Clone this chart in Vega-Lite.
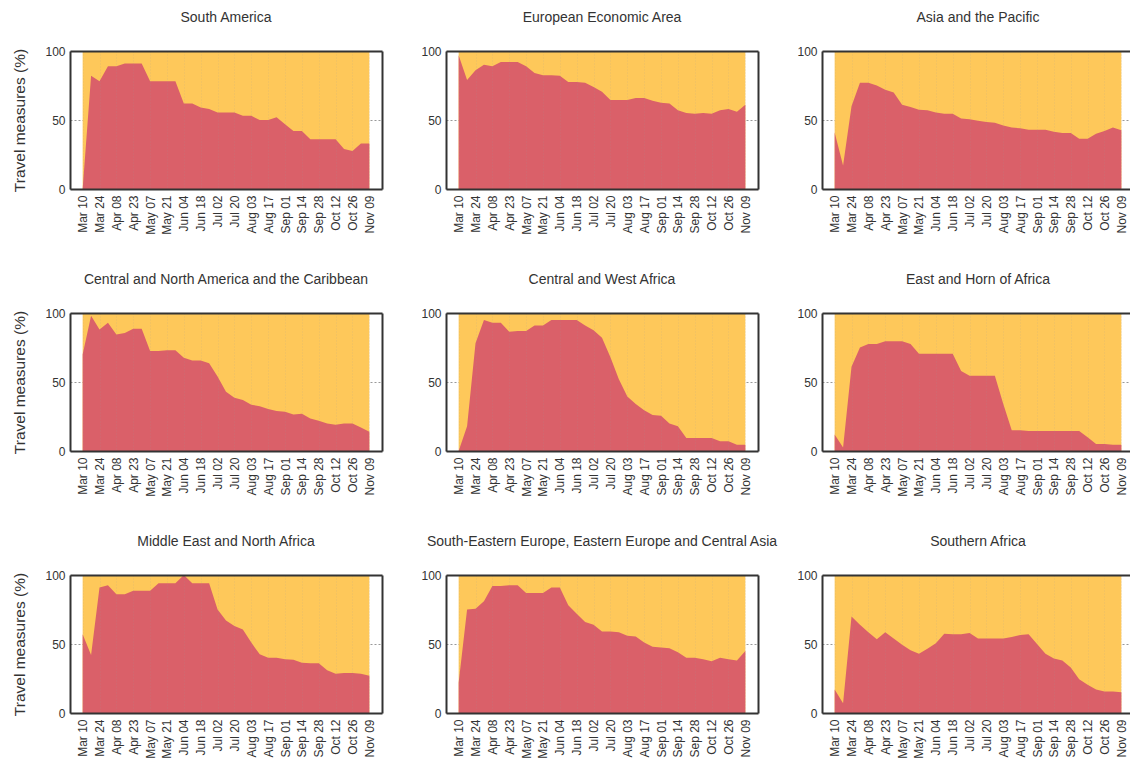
{
  "$schema": "https://vega.github.io/schema/vega-lite/v6.json",
  "padding": {"left": 12, "top": 11, "right": 0, "bottom": 0},
  "background": "white",
  "config": {
    "view": {"stroke": null},
    "font": "Liberation Sans",
    "title": {"fontSize": 14, "fontWeight": "normal", "color": "#333", "font": "Liberation Sans", "offset": 20},
    "axis": {"labelFont": "Liberation Sans", "labelFontSize": 12, "labelColor": "#333", "titleFont": "Liberation Sans", "titleFontSize": 15.5, "titleFontWeight": "normal", "titleColor": "#333", "domainColor": "#333", "domainWidth": 2, "ticks": false},
    "area": {"interpolate": "linear"}
  },
  "datasets": {
    "sa": [{"date":"Mar 10","value":0},{"date":"Mar 17","value":82},{"date":"Mar 24","value":78},{"date":"Mar 31","value":89},{"date":"Apr 08","value":89},{"date":"Apr 15","value":91},{"date":"Apr 23","value":91},{"date":"Apr 30","value":91},{"date":"May 07","value":78},{"date":"May 14","value":78},{"date":"May 21","value":78},{"date":"May 28","value":78},{"date":"Jun 04","value":62},{"date":"Jun 11","value":62},{"date":"Jun 18","value":59},{"date":"Jun 25","value":58},{"date":"Jul 02","value":55.5},{"date":"Jul 09","value":55.5},{"date":"Jul 20","value":55.5},{"date":"Jul 27","value":53},{"date":"Aug 03","value":53},{"date":"Aug 10","value":50},{"date":"Aug 17","value":50},{"date":"Aug 24","value":52},{"date":"Sep 01","value":47},{"date":"Sep 07","value":42},{"date":"Sep 14","value":42},{"date":"Sep 21","value":36},{"date":"Sep 28","value":36},{"date":"Oct 05","value":36},{"date":"Oct 12","value":36},{"date":"Oct 19","value":29},{"date":"Oct 26","value":27.5},{"date":"Nov 02","value":33},{"date":"Nov 09","value":33}],
    "eea": [{"date":"Mar 10","value":97},{"date":"Mar 17","value":79},{"date":"Mar 24","value":86},{"date":"Mar 31","value":90},{"date":"Apr 08","value":89},{"date":"Apr 15","value":92},{"date":"Apr 23","value":92},{"date":"Apr 30","value":92},{"date":"May 07","value":89},{"date":"May 14","value":84},{"date":"May 21","value":82.5},{"date":"May 28","value":82.5},{"date":"Jun 04","value":82},{"date":"Jun 11","value":77.5},{"date":"Jun 18","value":77.5},{"date":"Jun 25","value":77},{"date":"Jul 02","value":74},{"date":"Jul 09","value":70.5},{"date":"Jul 20","value":64.5},{"date":"Jul 27","value":64.5},{"date":"Aug 03","value":64.5},{"date":"Aug 10","value":66},{"date":"Aug 17","value":66},{"date":"Aug 24","value":64},{"date":"Sep 01","value":62.5},{"date":"Sep 07","value":62},{"date":"Sep 14","value":57},{"date":"Sep 21","value":55},{"date":"Sep 28","value":54.5},{"date":"Oct 05","value":55},{"date":"Oct 12","value":54.5},{"date":"Oct 19","value":57},{"date":"Oct 26","value":58},{"date":"Nov 02","value":56},{"date":"Nov 09","value":61}],
    "asia": [{"date":"Mar 10","value":41},{"date":"Mar 17","value":17},{"date":"Mar 24","value":60},{"date":"Mar 31","value":77},{"date":"Apr 08","value":77},{"date":"Apr 15","value":75},{"date":"Apr 23","value":72},{"date":"Apr 30","value":70},{"date":"May 07","value":61},{"date":"May 14","value":59.5},{"date":"May 21","value":57.5},{"date":"May 28","value":57},{"date":"Jun 04","value":55.5},{"date":"Jun 11","value":54.5},{"date":"Jun 18","value":54.5},{"date":"Jun 25","value":51},{"date":"Jul 02","value":50.5},{"date":"Jul 09","value":49.5},{"date":"Jul 20","value":48.5},{"date":"Jul 27","value":48},{"date":"Aug 03","value":46},{"date":"Aug 10","value":44.5},{"date":"Aug 17","value":44},{"date":"Aug 24","value":43},{"date":"Sep 01","value":43},{"date":"Sep 07","value":43},{"date":"Sep 14","value":41.5},{"date":"Sep 21","value":40.5},{"date":"Sep 28","value":40.5},{"date":"Oct 05","value":36.5},{"date":"Oct 12","value":36.5},{"date":"Oct 19","value":40},{"date":"Oct 26","value":42},{"date":"Nov 02","value":44.5},{"date":"Nov 09","value":42.5}],
    "cna": [{"date":"Mar 10","value":70},{"date":"Mar 17","value":98},{"date":"Mar 24","value":88},{"date":"Mar 31","value":93},{"date":"Apr 08","value":84.5},{"date":"Apr 15","value":85.5},{"date":"Apr 23","value":88.5},{"date":"Apr 30","value":88.5},{"date":"May 07","value":72.5},{"date":"May 14","value":72.5},{"date":"May 21","value":73},{"date":"May 28","value":73},{"date":"Jun 04","value":67.5},{"date":"Jun 11","value":65.5},{"date":"Jun 18","value":65.5},{"date":"Jun 25","value":63.5},{"date":"Jul 02","value":54},{"date":"Jul 09","value":43},{"date":"Jul 20","value":38.5},{"date":"Jul 27","value":37},{"date":"Aug 03","value":33.5},{"date":"Aug 10","value":32.5},{"date":"Aug 17","value":30.5},{"date":"Aug 24","value":29},{"date":"Sep 01","value":28.5},{"date":"Sep 07","value":26.5},{"date":"Sep 14","value":27},{"date":"Sep 21","value":23.5},{"date":"Sep 28","value":22},{"date":"Oct 05","value":20},{"date":"Oct 12","value":19},{"date":"Oct 19","value":20},{"date":"Oct 26","value":20},{"date":"Nov 02","value":17},{"date":"Nov 09","value":14}],
    "cwa": [{"date":"Mar 10","value":0},{"date":"Mar 17","value":18},{"date":"Mar 24","value":78},{"date":"Mar 31","value":95},{"date":"Apr 08","value":93},{"date":"Apr 15","value":93},{"date":"Apr 23","value":86.5},{"date":"Apr 30","value":87},{"date":"May 07","value":87},{"date":"May 14","value":91},{"date":"May 21","value":91},{"date":"May 28","value":95},{"date":"Jun 04","value":95},{"date":"Jun 11","value":95},{"date":"Jun 18","value":95},{"date":"Jun 25","value":91},{"date":"Jul 02","value":87.5},{"date":"Jul 09","value":82},{"date":"Jul 20","value":68},{"date":"Jul 27","value":52},{"date":"Aug 03","value":39.5},{"date":"Aug 10","value":34},{"date":"Aug 17","value":29.5},{"date":"Aug 24","value":26},{"date":"Sep 01","value":25.5},{"date":"Sep 07","value":20},{"date":"Sep 14","value":18},{"date":"Sep 21","value":9.5},{"date":"Sep 28","value":9.5},{"date":"Oct 05","value":9.5},{"date":"Oct 12","value":9.5},{"date":"Oct 19","value":7},{"date":"Oct 26","value":7},{"date":"Nov 02","value":4.5},{"date":"Nov 09","value":4.5}],
    "eha": [{"date":"Mar 10","value":12},{"date":"Mar 17","value":2.5},{"date":"Mar 24","value":61},{"date":"Mar 31","value":75},{"date":"Apr 08","value":77.5},{"date":"Apr 15","value":77.5},{"date":"Apr 23","value":79.5},{"date":"Apr 30","value":79.5},{"date":"May 07","value":79.5},{"date":"May 14","value":77.5},{"date":"May 21","value":70.5},{"date":"May 28","value":70.5},{"date":"Jun 04","value":70.5},{"date":"Jun 11","value":70.5},{"date":"Jun 18","value":70.5},{"date":"Jun 25","value":58},{"date":"Jul 02","value":54.5},{"date":"Jul 09","value":54.5},{"date":"Jul 20","value":54.5},{"date":"Jul 27","value":54.5},{"date":"Aug 03","value":34},{"date":"Aug 10","value":15},{"date":"Aug 17","value":15},{"date":"Aug 24","value":14.5},{"date":"Sep 01","value":14.5},{"date":"Sep 07","value":14.5},{"date":"Sep 14","value":14.5},{"date":"Sep 21","value":14.5},{"date":"Sep 28","value":14.5},{"date":"Oct 05","value":14.5},{"date":"Oct 12","value":10},{"date":"Oct 19","value":5},{"date":"Oct 26","value":5},{"date":"Nov 02","value":4.5},{"date":"Nov 09","value":4.5}],
    "mena": [{"date":"Mar 10","value":57},{"date":"Mar 17","value":42},{"date":"Mar 24","value":91},{"date":"Mar 31","value":92.5},{"date":"Apr 08","value":86},{"date":"Apr 15","value":86},{"date":"Apr 23","value":88.5},{"date":"Apr 30","value":88.5},{"date":"May 07","value":88.5},{"date":"May 14","value":94},{"date":"May 21","value":94},{"date":"May 28","value":94},{"date":"Jun 04","value":100},{"date":"Jun 11","value":94},{"date":"Jun 18","value":94},{"date":"Jun 25","value":94},{"date":"Jul 02","value":75},{"date":"Jul 09","value":67},{"date":"Jul 20","value":63},{"date":"Jul 27","value":60.5},{"date":"Aug 03","value":51},{"date":"Aug 10","value":42.5},{"date":"Aug 17","value":40},{"date":"Aug 24","value":40},{"date":"Sep 01","value":39},{"date":"Sep 07","value":38.5},{"date":"Sep 14","value":36.5},{"date":"Sep 21","value":36},{"date":"Sep 28","value":36},{"date":"Oct 05","value":31},{"date":"Oct 12","value":28.5},{"date":"Oct 19","value":29},{"date":"Oct 26","value":29},{"date":"Nov 02","value":28.5},{"date":"Nov 09","value":27}],
    "see": [{"date":"Mar 10","value":22},{"date":"Mar 17","value":75},{"date":"Mar 24","value":75.5},{"date":"Mar 31","value":81},{"date":"Apr 08","value":92},{"date":"Apr 15","value":92},{"date":"Apr 23","value":92.5},{"date":"Apr 30","value":92.5},{"date":"May 07","value":87},{"date":"May 14","value":87},{"date":"May 21","value":87},{"date":"May 28","value":91},{"date":"Jun 04","value":91},{"date":"Jun 11","value":78},{"date":"Jun 18","value":72},{"date":"Jun 25","value":66},{"date":"Jul 02","value":64},{"date":"Jul 09","value":59},{"date":"Jul 20","value":59},{"date":"Jul 27","value":58.5},{"date":"Aug 03","value":56},{"date":"Aug 10","value":55.5},{"date":"Aug 17","value":51},{"date":"Aug 24","value":48},{"date":"Sep 01","value":47.5},{"date":"Sep 07","value":47},{"date":"Sep 14","value":44},{"date":"Sep 21","value":40},{"date":"Sep 28","value":40},{"date":"Oct 05","value":39},{"date":"Oct 12","value":37.5},{"date":"Oct 19","value":40},{"date":"Oct 26","value":39},{"date":"Nov 02","value":38},{"date":"Nov 09","value":45}],
    "saf": [{"date":"Mar 10","value":17},{"date":"Mar 17","value":7},{"date":"Mar 24","value":70},{"date":"Mar 31","value":64},{"date":"Apr 08","value":58.5},{"date":"Apr 15","value":53.5},{"date":"Apr 23","value":58.5},{"date":"Apr 30","value":54},{"date":"May 07","value":49.5},{"date":"May 14","value":45.5},{"date":"May 21","value":43},{"date":"May 28","value":46.5},{"date":"Jun 04","value":50.5},{"date":"Jun 11","value":57.5},{"date":"Jun 18","value":57},{"date":"Jun 25","value":57},{"date":"Jul 02","value":58},{"date":"Jul 09","value":54},{"date":"Jul 20","value":54},{"date":"Jul 27","value":54},{"date":"Aug 03","value":54},{"date":"Aug 10","value":55},{"date":"Aug 17","value":56.5},{"date":"Aug 24","value":57},{"date":"Sep 01","value":50},{"date":"Sep 07","value":43},{"date":"Sep 14","value":39.5},{"date":"Sep 21","value":38},{"date":"Sep 28","value":33},{"date":"Oct 05","value":24.5},{"date":"Oct 12","value":20.5},{"date":"Oct 19","value":17},{"date":"Oct 26","value":15.5},{"date":"Nov 02","value":15.5},{"date":"Nov 09","value":15}]
  },
  "columns": 3,
  "bounds": "flush",
  "spacing": {"row": 124, "column": 64},
  "concat": [
    {"title": "South America", "width": 312, "height": 138, "data": {"name": "sa"},
     "layer": [
      {"mark": {"type": "area", "color": "#fec85a"},
       "encoding": {
        "x": {"field": "date", "type": "ordinal", "scale": {"type": "point", "padding": 0.5, "domain": ["_start","Mar 10","Mar 17","Mar 24","Mar 31","Apr 08","Apr 15","Apr 23","Apr 30","May 07","May 14","May 21","May 28","Jun 04","Jun 11","Jun 18","Jun 25","Jul 02","Jul 09","Jul 20","Jul 27","Aug 03","Aug 10","Aug 17","Aug 24","Sep 01","Sep 07","Sep 14","Sep 21","Sep 28","Oct 05","Oct 12","Oct 19","Oct 26","Nov 02","Nov 09","_end"]},
         "axis": {"orient": "bottom", "title": null, "values": ["Mar 10","Mar 24","Apr 08","Apr 23","May 07","May 21","Jun 04","Jun 18","Jul 02","Jul 20","Aug 03","Aug 17","Sep 01","Sep 14","Sep 28","Oct 12","Oct 26","Nov 09"], "labelAngle": -90, "labelPadding": 6, "grid": true, "gridColor": "#999", "gridDash": [1, 2], "gridOpacity": 0.22, "zindex": 1}},
        "y": {"datum": 100, "type": "quantitative", "scale": {"domain": [0, 100]},
         "axis": {"orient": "left", "title": "Travel measures (%)", "titlePadding": 17, "values": [0, 50, 100], "labelPadding": 5, "grid": true, "gridColor": "#999", "gridDash": [2, 2], "zindex": 0}}
       }},
      {"mark": {"type": "area", "color": "#da6069"},
       "encoding": {
        "x": {"field": "date", "type": "ordinal", "scale": {"type": "point", "padding": 0.5, "domain": ["_start","Mar 10","Mar 17","Mar 24","Mar 31","Apr 08","Apr 15","Apr 23","Apr 30","May 07","May 14","May 21","May 28","Jun 04","Jun 11","Jun 18","Jun 25","Jul 02","Jul 09","Jul 20","Jul 27","Aug 03","Aug 10","Aug 17","Aug 24","Sep 01","Sep 07","Sep 14","Sep 21","Sep 28","Oct 05","Oct 12","Oct 19","Oct 26","Nov 02","Nov 09","_end"]}, "axis": {"orient": "top", "title": null, "labels": false, "grid": false, "zindex": 1}},
        "y": {"field": "value", "type": "quantitative", "axis": {"orient": "right", "title": null, "labels": false, "grid": false, "zindex": 1}}
       }}
     ]},
    {"title": "European Economic Area", "width": 312, "height": 138, "data": {"name": "eea"},
     "layer": [
      {"mark": {"type": "area", "color": "#fec85a"},
       "encoding": {
        "x": {"field": "date", "type": "ordinal", "scale": {"type": "point", "padding": 0.5, "domain": ["_start","Mar 10","Mar 17","Mar 24","Mar 31","Apr 08","Apr 15","Apr 23","Apr 30","May 07","May 14","May 21","May 28","Jun 04","Jun 11","Jun 18","Jun 25","Jul 02","Jul 09","Jul 20","Jul 27","Aug 03","Aug 10","Aug 17","Aug 24","Sep 01","Sep 07","Sep 14","Sep 21","Sep 28","Oct 05","Oct 12","Oct 19","Oct 26","Nov 02","Nov 09","_end"]},
         "axis": {"orient": "bottom", "title": null, "values": ["Mar 10","Mar 24","Apr 08","Apr 23","May 07","May 21","Jun 04","Jun 18","Jul 02","Jul 20","Aug 03","Aug 17","Sep 01","Sep 14","Sep 28","Oct 12","Oct 26","Nov 09"], "labelAngle": -90, "labelPadding": 6, "grid": true, "gridColor": "#999", "gridDash": [1, 2], "gridOpacity": 0.22, "zindex": 1}},
        "y": {"datum": 100, "type": "quantitative", "scale": {"domain": [0, 100]},
         "axis": {"orient": "left", "title": null, "values": [0, 50, 100], "labelPadding": 5, "grid": true, "gridColor": "#999", "gridDash": [2, 2], "zindex": 0}}
       }},
      {"mark": {"type": "area", "color": "#da6069"},
       "encoding": {
        "x": {"field": "date", "type": "ordinal", "scale": {"type": "point", "padding": 0.5, "domain": ["_start","Mar 10","Mar 17","Mar 24","Mar 31","Apr 08","Apr 15","Apr 23","Apr 30","May 07","May 14","May 21","May 28","Jun 04","Jun 11","Jun 18","Jun 25","Jul 02","Jul 09","Jul 20","Jul 27","Aug 03","Aug 10","Aug 17","Aug 24","Sep 01","Sep 07","Sep 14","Sep 21","Sep 28","Oct 05","Oct 12","Oct 19","Oct 26","Nov 02","Nov 09","_end"]}, "axis": {"orient": "top", "title": null, "labels": false, "grid": false, "zindex": 1}},
        "y": {"field": "value", "type": "quantitative", "axis": {"orient": "right", "title": null, "labels": false, "grid": false, "zindex": 1}}
       }}
     ]},
    {"title": "Asia and the Pacific", "width": 312, "height": 138, "data": {"name": "asia"},
     "layer": [
      {"mark": {"type": "area", "color": "#fec85a"},
       "encoding": {
        "x": {"field": "date", "type": "ordinal", "scale": {"type": "point", "padding": 0.5, "domain": ["_start","Mar 10","Mar 17","Mar 24","Mar 31","Apr 08","Apr 15","Apr 23","Apr 30","May 07","May 14","May 21","May 28","Jun 04","Jun 11","Jun 18","Jun 25","Jul 02","Jul 09","Jul 20","Jul 27","Aug 03","Aug 10","Aug 17","Aug 24","Sep 01","Sep 07","Sep 14","Sep 21","Sep 28","Oct 05","Oct 12","Oct 19","Oct 26","Nov 02","Nov 09","_end"]},
         "axis": {"orient": "bottom", "title": null, "values": ["Mar 10","Mar 24","Apr 08","Apr 23","May 07","May 21","Jun 04","Jun 18","Jul 02","Jul 20","Aug 03","Aug 17","Sep 01","Sep 14","Sep 28","Oct 12","Oct 26","Nov 09"], "labelAngle": -90, "labelPadding": 6, "grid": true, "gridColor": "#999", "gridDash": [1, 2], "gridOpacity": 0.22, "zindex": 1}},
        "y": {"datum": 100, "type": "quantitative", "scale": {"domain": [0, 100]},
         "axis": {"orient": "left", "title": null, "values": [0, 50, 100], "labelPadding": 5, "grid": true, "gridColor": "#999", "gridDash": [2, 2], "zindex": 0}}
       }},
      {"mark": {"type": "area", "color": "#da6069"},
       "encoding": {
        "x": {"field": "date", "type": "ordinal", "scale": {"type": "point", "padding": 0.5, "domain": ["_start","Mar 10","Mar 17","Mar 24","Mar 31","Apr 08","Apr 15","Apr 23","Apr 30","May 07","May 14","May 21","May 28","Jun 04","Jun 11","Jun 18","Jun 25","Jul 02","Jul 09","Jul 20","Jul 27","Aug 03","Aug 10","Aug 17","Aug 24","Sep 01","Sep 07","Sep 14","Sep 21","Sep 28","Oct 05","Oct 12","Oct 19","Oct 26","Nov 02","Nov 09","_end"]}, "axis": {"orient": "top", "title": null, "labels": false, "grid": false, "zindex": 1}},
        "y": {"field": "value", "type": "quantitative", "axis": {"orient": "right", "title": null, "labels": false, "grid": false, "zindex": 1}}
       }}
     ]},
    {"title": "Central and North America and the Caribbean", "width": 312, "height": 138, "data": {"name": "cna"},
     "layer": [
      {"mark": {"type": "area", "color": "#fec85a"},
       "encoding": {
        "x": {"field": "date", "type": "ordinal", "scale": {"type": "point", "padding": 0.5, "domain": ["_start","Mar 10","Mar 17","Mar 24","Mar 31","Apr 08","Apr 15","Apr 23","Apr 30","May 07","May 14","May 21","May 28","Jun 04","Jun 11","Jun 18","Jun 25","Jul 02","Jul 09","Jul 20","Jul 27","Aug 03","Aug 10","Aug 17","Aug 24","Sep 01","Sep 07","Sep 14","Sep 21","Sep 28","Oct 05","Oct 12","Oct 19","Oct 26","Nov 02","Nov 09","_end"]},
         "axis": {"orient": "bottom", "title": null, "values": ["Mar 10","Mar 24","Apr 08","Apr 23","May 07","May 21","Jun 04","Jun 18","Jul 02","Jul 20","Aug 03","Aug 17","Sep 01","Sep 14","Sep 28","Oct 12","Oct 26","Nov 09"], "labelAngle": -90, "labelPadding": 6, "grid": true, "gridColor": "#999", "gridDash": [1, 2], "gridOpacity": 0.22, "zindex": 1}},
        "y": {"datum": 100, "type": "quantitative", "scale": {"domain": [0, 100]},
         "axis": {"orient": "left", "title": "Travel measures (%)", "titlePadding": 17, "values": [0, 50, 100], "labelPadding": 5, "grid": true, "gridColor": "#999", "gridDash": [2, 2], "zindex": 0}}
       }},
      {"mark": {"type": "area", "color": "#da6069"},
       "encoding": {
        "x": {"field": "date", "type": "ordinal", "scale": {"type": "point", "padding": 0.5, "domain": ["_start","Mar 10","Mar 17","Mar 24","Mar 31","Apr 08","Apr 15","Apr 23","Apr 30","May 07","May 14","May 21","May 28","Jun 04","Jun 11","Jun 18","Jun 25","Jul 02","Jul 09","Jul 20","Jul 27","Aug 03","Aug 10","Aug 17","Aug 24","Sep 01","Sep 07","Sep 14","Sep 21","Sep 28","Oct 05","Oct 12","Oct 19","Oct 26","Nov 02","Nov 09","_end"]}, "axis": {"orient": "top", "title": null, "labels": false, "grid": false, "zindex": 1}},
        "y": {"field": "value", "type": "quantitative", "axis": {"orient": "right", "title": null, "labels": false, "grid": false, "zindex": 1}}
       }}
     ]},
    {"title": "Central and West Africa", "width": 312, "height": 138, "data": {"name": "cwa"},
     "layer": [
      {"mark": {"type": "area", "color": "#fec85a"},
       "encoding": {
        "x": {"field": "date", "type": "ordinal", "scale": {"type": "point", "padding": 0.5, "domain": ["_start","Mar 10","Mar 17","Mar 24","Mar 31","Apr 08","Apr 15","Apr 23","Apr 30","May 07","May 14","May 21","May 28","Jun 04","Jun 11","Jun 18","Jun 25","Jul 02","Jul 09","Jul 20","Jul 27","Aug 03","Aug 10","Aug 17","Aug 24","Sep 01","Sep 07","Sep 14","Sep 21","Sep 28","Oct 05","Oct 12","Oct 19","Oct 26","Nov 02","Nov 09","_end"]},
         "axis": {"orient": "bottom", "title": null, "values": ["Mar 10","Mar 24","Apr 08","Apr 23","May 07","May 21","Jun 04","Jun 18","Jul 02","Jul 20","Aug 03","Aug 17","Sep 01","Sep 14","Sep 28","Oct 12","Oct 26","Nov 09"], "labelAngle": -90, "labelPadding": 6, "grid": true, "gridColor": "#999", "gridDash": [1, 2], "gridOpacity": 0.22, "zindex": 1}},
        "y": {"datum": 100, "type": "quantitative", "scale": {"domain": [0, 100]},
         "axis": {"orient": "left", "title": null, "values": [0, 50, 100], "labelPadding": 5, "grid": true, "gridColor": "#999", "gridDash": [2, 2], "zindex": 0}}
       }},
      {"mark": {"type": "area", "color": "#da6069"},
       "encoding": {
        "x": {"field": "date", "type": "ordinal", "scale": {"type": "point", "padding": 0.5, "domain": ["_start","Mar 10","Mar 17","Mar 24","Mar 31","Apr 08","Apr 15","Apr 23","Apr 30","May 07","May 14","May 21","May 28","Jun 04","Jun 11","Jun 18","Jun 25","Jul 02","Jul 09","Jul 20","Jul 27","Aug 03","Aug 10","Aug 17","Aug 24","Sep 01","Sep 07","Sep 14","Sep 21","Sep 28","Oct 05","Oct 12","Oct 19","Oct 26","Nov 02","Nov 09","_end"]}, "axis": {"orient": "top", "title": null, "labels": false, "grid": false, "zindex": 1}},
        "y": {"field": "value", "type": "quantitative", "axis": {"orient": "right", "title": null, "labels": false, "grid": false, "zindex": 1}}
       }}
     ]},
    {"title": "East and Horn of Africa", "width": 312, "height": 138, "data": {"name": "eha"},
     "layer": [
      {"mark": {"type": "area", "color": "#fec85a"},
       "encoding": {
        "x": {"field": "date", "type": "ordinal", "scale": {"type": "point", "padding": 0.5, "domain": ["_start","Mar 10","Mar 17","Mar 24","Mar 31","Apr 08","Apr 15","Apr 23","Apr 30","May 07","May 14","May 21","May 28","Jun 04","Jun 11","Jun 18","Jun 25","Jul 02","Jul 09","Jul 20","Jul 27","Aug 03","Aug 10","Aug 17","Aug 24","Sep 01","Sep 07","Sep 14","Sep 21","Sep 28","Oct 05","Oct 12","Oct 19","Oct 26","Nov 02","Nov 09","_end"]},
         "axis": {"orient": "bottom", "title": null, "values": ["Mar 10","Mar 24","Apr 08","Apr 23","May 07","May 21","Jun 04","Jun 18","Jul 02","Jul 20","Aug 03","Aug 17","Sep 01","Sep 14","Sep 28","Oct 12","Oct 26","Nov 09"], "labelAngle": -90, "labelPadding": 6, "grid": true, "gridColor": "#999", "gridDash": [1, 2], "gridOpacity": 0.22, "zindex": 1}},
        "y": {"datum": 100, "type": "quantitative", "scale": {"domain": [0, 100]},
         "axis": {"orient": "left", "title": null, "values": [0, 50, 100], "labelPadding": 5, "grid": true, "gridColor": "#999", "gridDash": [2, 2], "zindex": 0}}
       }},
      {"mark": {"type": "area", "color": "#da6069"},
       "encoding": {
        "x": {"field": "date", "type": "ordinal", "scale": {"type": "point", "padding": 0.5, "domain": ["_start","Mar 10","Mar 17","Mar 24","Mar 31","Apr 08","Apr 15","Apr 23","Apr 30","May 07","May 14","May 21","May 28","Jun 04","Jun 11","Jun 18","Jun 25","Jul 02","Jul 09","Jul 20","Jul 27","Aug 03","Aug 10","Aug 17","Aug 24","Sep 01","Sep 07","Sep 14","Sep 21","Sep 28","Oct 05","Oct 12","Oct 19","Oct 26","Nov 02","Nov 09","_end"]}, "axis": {"orient": "top", "title": null, "labels": false, "grid": false, "zindex": 1}},
        "y": {"field": "value", "type": "quantitative", "axis": {"orient": "right", "title": null, "labels": false, "grid": false, "zindex": 1}}
       }}
     ]},
    {"title": "Middle East and North Africa", "width": 312, "height": 138, "data": {"name": "mena"},
     "layer": [
      {"mark": {"type": "area", "color": "#fec85a"},
       "encoding": {
        "x": {"field": "date", "type": "ordinal", "scale": {"type": "point", "padding": 0.5, "domain": ["_start","Mar 10","Mar 17","Mar 24","Mar 31","Apr 08","Apr 15","Apr 23","Apr 30","May 07","May 14","May 21","May 28","Jun 04","Jun 11","Jun 18","Jun 25","Jul 02","Jul 09","Jul 20","Jul 27","Aug 03","Aug 10","Aug 17","Aug 24","Sep 01","Sep 07","Sep 14","Sep 21","Sep 28","Oct 05","Oct 12","Oct 19","Oct 26","Nov 02","Nov 09","_end"]},
         "axis": {"orient": "bottom", "title": null, "values": ["Mar 10","Mar 24","Apr 08","Apr 23","May 07","May 21","Jun 04","Jun 18","Jul 02","Jul 20","Aug 03","Aug 17","Sep 01","Sep 14","Sep 28","Oct 12","Oct 26","Nov 09"], "labelAngle": -90, "labelPadding": 6, "grid": true, "gridColor": "#999", "gridDash": [1, 2], "gridOpacity": 0.22, "zindex": 1}},
        "y": {"datum": 100, "type": "quantitative", "scale": {"domain": [0, 100]},
         "axis": {"orient": "left", "title": "Travel measures (%)", "titlePadding": 17, "values": [0, 50, 100], "labelPadding": 5, "grid": true, "gridColor": "#999", "gridDash": [2, 2], "zindex": 0}}
       }},
      {"mark": {"type": "area", "color": "#da6069"},
       "encoding": {
        "x": {"field": "date", "type": "ordinal", "scale": {"type": "point", "padding": 0.5, "domain": ["_start","Mar 10","Mar 17","Mar 24","Mar 31","Apr 08","Apr 15","Apr 23","Apr 30","May 07","May 14","May 21","May 28","Jun 04","Jun 11","Jun 18","Jun 25","Jul 02","Jul 09","Jul 20","Jul 27","Aug 03","Aug 10","Aug 17","Aug 24","Sep 01","Sep 07","Sep 14","Sep 21","Sep 28","Oct 05","Oct 12","Oct 19","Oct 26","Nov 02","Nov 09","_end"]}, "axis": {"orient": "top", "title": null, "labels": false, "grid": false, "zindex": 1}},
        "y": {"field": "value", "type": "quantitative", "axis": {"orient": "right", "title": null, "labels": false, "grid": false, "zindex": 1}}
       }}
     ]},
    {"title": "South-Eastern Europe, Eastern Europe and Central Asia", "width": 312, "height": 138, "data": {"name": "see"},
     "layer": [
      {"mark": {"type": "area", "color": "#fec85a"},
       "encoding": {
        "x": {"field": "date", "type": "ordinal", "scale": {"type": "point", "padding": 0.5, "domain": ["_start","Mar 10","Mar 17","Mar 24","Mar 31","Apr 08","Apr 15","Apr 23","Apr 30","May 07","May 14","May 21","May 28","Jun 04","Jun 11","Jun 18","Jun 25","Jul 02","Jul 09","Jul 20","Jul 27","Aug 03","Aug 10","Aug 17","Aug 24","Sep 01","Sep 07","Sep 14","Sep 21","Sep 28","Oct 05","Oct 12","Oct 19","Oct 26","Nov 02","Nov 09","_end"]},
         "axis": {"orient": "bottom", "title": null, "values": ["Mar 10","Mar 24","Apr 08","Apr 23","May 07","May 21","Jun 04","Jun 18","Jul 02","Jul 20","Aug 03","Aug 17","Sep 01","Sep 14","Sep 28","Oct 12","Oct 26","Nov 09"], "labelAngle": -90, "labelPadding": 6, "grid": true, "gridColor": "#999", "gridDash": [1, 2], "gridOpacity": 0.22, "zindex": 1}},
        "y": {"datum": 100, "type": "quantitative", "scale": {"domain": [0, 100]},
         "axis": {"orient": "left", "title": null, "values": [0, 50, 100], "labelPadding": 5, "grid": true, "gridColor": "#999", "gridDash": [2, 2], "zindex": 0}}
       }},
      {"mark": {"type": "area", "color": "#da6069"},
       "encoding": {
        "x": {"field": "date", "type": "ordinal", "scale": {"type": "point", "padding": 0.5, "domain": ["_start","Mar 10","Mar 17","Mar 24","Mar 31","Apr 08","Apr 15","Apr 23","Apr 30","May 07","May 14","May 21","May 28","Jun 04","Jun 11","Jun 18","Jun 25","Jul 02","Jul 09","Jul 20","Jul 27","Aug 03","Aug 10","Aug 17","Aug 24","Sep 01","Sep 07","Sep 14","Sep 21","Sep 28","Oct 05","Oct 12","Oct 19","Oct 26","Nov 02","Nov 09","_end"]}, "axis": {"orient": "top", "title": null, "labels": false, "grid": false, "zindex": 1}},
        "y": {"field": "value", "type": "quantitative", "axis": {"orient": "right", "title": null, "labels": false, "grid": false, "zindex": 1}}
       }}
     ]},
    {"title": "Southern Africa", "width": 312, "height": 138, "data": {"name": "saf"},
     "layer": [
      {"mark": {"type": "area", "color": "#fec85a"},
       "encoding": {
        "x": {"field": "date", "type": "ordinal", "scale": {"type": "point", "padding": 0.5, "domain": ["_start","Mar 10","Mar 17","Mar 24","Mar 31","Apr 08","Apr 15","Apr 23","Apr 30","May 07","May 14","May 21","May 28","Jun 04","Jun 11","Jun 18","Jun 25","Jul 02","Jul 09","Jul 20","Jul 27","Aug 03","Aug 10","Aug 17","Aug 24","Sep 01","Sep 07","Sep 14","Sep 21","Sep 28","Oct 05","Oct 12","Oct 19","Oct 26","Nov 02","Nov 09","_end"]},
         "axis": {"orient": "bottom", "title": null, "values": ["Mar 10","Mar 24","Apr 08","Apr 23","May 07","May 21","Jun 04","Jun 18","Jul 02","Jul 20","Aug 03","Aug 17","Sep 01","Sep 14","Sep 28","Oct 12","Oct 26","Nov 09"], "labelAngle": -90, "labelPadding": 6, "grid": true, "gridColor": "#999", "gridDash": [1, 2], "gridOpacity": 0.22, "zindex": 1}},
        "y": {"datum": 100, "type": "quantitative", "scale": {"domain": [0, 100]},
         "axis": {"orient": "left", "title": null, "values": [0, 50, 100], "labelPadding": 5, "grid": true, "gridColor": "#999", "gridDash": [2, 2], "zindex": 0}}
       }},
      {"mark": {"type": "area", "color": "#da6069"},
       "encoding": {
        "x": {"field": "date", "type": "ordinal", "scale": {"type": "point", "padding": 0.5, "domain": ["_start","Mar 10","Mar 17","Mar 24","Mar 31","Apr 08","Apr 15","Apr 23","Apr 30","May 07","May 14","May 21","May 28","Jun 04","Jun 11","Jun 18","Jun 25","Jul 02","Jul 09","Jul 20","Jul 27","Aug 03","Aug 10","Aug 17","Aug 24","Sep 01","Sep 07","Sep 14","Sep 21","Sep 28","Oct 05","Oct 12","Oct 19","Oct 26","Nov 02","Nov 09","_end"]}, "axis": {"orient": "top", "title": null, "labels": false, "grid": false, "zindex": 1}},
        "y": {"field": "value", "type": "quantitative", "axis": {"orient": "right", "title": null, "labels": false, "grid": false, "zindex": 1}}
       }}
     ]}
  ]
}
